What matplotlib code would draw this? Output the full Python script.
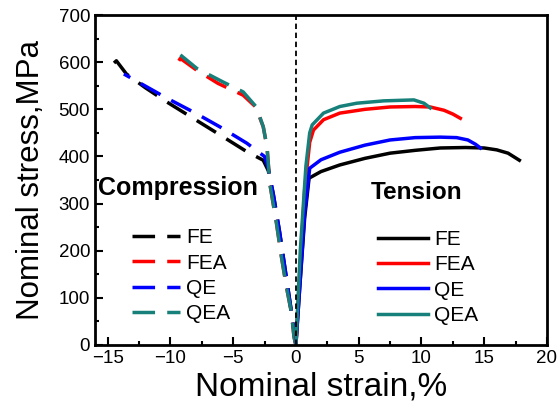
import matplotlib.pyplot as plt
import numpy as np

plt.rcParams['font.family'] = ['Liberation Sans', 'DejaVu Sans']

# compression curves (strain %, stress MPa)
fe_c_x = [0, -0.3, -0.8, -1.3, -1.8, -2.2, -2.6, -3.9, -6.0, -8.0, -10.3, -12.0, -13.5, -14.3, -14.5]
fe_c_y = [0, 60, 150, 240, 320, 370, 392, 410, 445, 478, 516, 546, 575, 603, 598]
fea_c_x = [0, -0.15, -0.35, -0.75, -1.15, -1.55, -2.08, -2.3, -2.6, -3.2, -4.2, -6.2, -7.9, -9.2, -9.4]
fea_c_y = [0, 17, 68, 123, 187, 259, 343, 420, 463, 505, 530, 555, 583, 608, 600]
qe_c_x = [0, -0.3, -0.8, -1.3, -1.8, -2.2, -2.5, -3.9, -6.0, -8.0, -10.3, -11.7, -13.7]
qe_c_y = [0, 60, 150, 240, 320, 375, 400, 428, 462, 492, 524, 545, 575]
qea_c_x = [0, -0.15, -0.35, -0.75, -1.15, -1.55, -2.08, -2.3, -2.6, -3.15, -4.2, -5.8, -7.9, -9.5]
qea_c_y = [0, 17, 68, 123, 187, 259, 343, 420, 463, 505, 537, 558, 587, 622]

# tension curves
fe_t_x = [0, 0.3, 0.7, 1.05, 2.0, 3.5, 5.5, 7.5, 9.5, 11.5, 13.5, 15.0, 16.0, 16.9, 17.8]
fe_t_y = [0, 120, 270, 354, 368, 382, 396, 407, 413, 418, 419, 418, 414, 407, 392]
fea_t_x = [0, 0.3, 0.7, 1.1, 1.4, 2.2, 3.5, 5.5, 7.5, 9.5, 10.7, 11.8, 12.5, 13.1]
fea_t_y = [0, 150, 330, 430, 456, 478, 492, 500, 505, 506, 505, 498, 490, 481]
qe_t_x = [0, 0.3, 0.7, 1.1, 2.0, 3.5, 5.5, 7.5, 9.5, 11.5, 12.8, 13.7, 14.3, 14.7]
qe_t_y = [0, 120, 280, 375, 393, 409, 424, 435, 440, 441, 440, 435, 426, 418]
qea_t_x = [0, 0.35, 0.8, 1.1, 1.3, 2.2, 3.5, 4.85, 7.0, 9.4, 10.2, 10.7]
qea_t_y = [0, 200, 380, 450, 467, 492, 506, 513, 518, 520, 513, 503]

labels = ['FE', 'FEA', 'QE', 'QEA']
colors = ['black', 'red', 'blue', '#17807a']

fig = plt.figure(figsize=(5.57, 4.2), dpi=100)
ax = fig.add_axes([0.1706, 0.1786, 0.8114, 0.7855])

comp = [(fe_c_x, fe_c_y), (fea_c_x, fea_c_y), (qe_c_x, qe_c_y), (qea_c_x, qea_c_y)]
tens = [(fe_t_x, fe_t_y), (fea_t_x, fea_t_y), (qe_t_x, qe_t_y), (qea_t_x, qea_t_y)]

hc = []
for (x, y), c, lab in zip(comp, colors, labels):
    h, = ax.plot(x, y, color=c, lw=2.5, dashes=(6.5, 3.5), label=lab)
    hc.append(h)
ht = []
for (x, y), c, lab in zip(tens, colors, labels):
    h, = ax.plot(x, y, color=c, lw=2.5, label=lab)
    ht.append(h)

ax.axvline(0, color='black', lw=1.3, ls=(0, (3, 2)))

ax.set_xlim(-16, 20)
ax.set_ylim(0, 700)
ax.set_xticks(np.arange(-15, 21, 5))
ax.set_xticks(np.arange(-15, 20, 2.5), minor=True)
ax.set_yticks(np.arange(0, 701, 100))
ax.set_yticks(np.arange(0, 700, 50), minor=True)
ax.tick_params(which='major', direction='in', length=6, width=1.5, labelsize=13.5)
ax.tick_params(which='minor', direction='in', length=3, width=1.5)
for s in ax.spines.values():
    s.set_linewidth(2)

ax.set_xlabel('Nominal strain,%', fontsize=24, labelpad=3)
ax.set_ylabel('Nominal stress,MPa', fontsize=22.5, labelpad=9)

ax.text(-15.75, 333, 'Compression', fontsize=18, fontweight='bold', va='center')
ax.text(6.0, 324, 'Tension', fontsize=17.5, fontweight='bold', va='center')

leg1 = ax.legend(handles=hc, loc='upper left', bbox_to_anchor=(0.04, 0.41), frameon=False,
                 fontsize=15, handlelength=2.3, labelspacing=0.3, handletextpad=0.3)
ax.add_artist(leg1)
ax.legend(handles=ht, loc='upper left', bbox_to_anchor=(0.585, 0.405), frameon=False,
          fontsize=15, handlelength=2.4, labelspacing=0.3, handletextpad=0.3)

fig.savefig('out.png', dpi=100)
